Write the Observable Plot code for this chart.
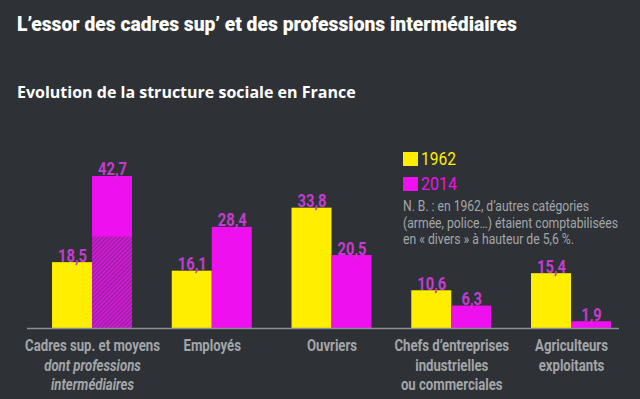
<!DOCTYPE html>
<html><head><meta charset="utf-8">
<script src="https://cdn.jsdelivr.net/npm/d3@7"></script>
<script src="https://cdn.jsdelivr.net/npm/@observablehq/plot@0.6"></script>
<style>
html,body{margin:0;padding:0;background:#2e3236;}
#wrap{position:relative;width:640px;height:399px;overflow:hidden;background:#2e3236;}
.cond{font-family:Roboto,sans-serif;white-space:nowrap;transform-origin:0 0;position:absolute;line-height:1;}
#title{left:17px;top:14px;color:#fff;font-weight:900;font-size:21px;}
#subtitle{position:absolute;left:17px;top:84px;color:#fff;font-family:"Open Sans",sans-serif;font-weight:bold;font-size:16px;line-height:1;white-space:nowrap;}
#chart{position:absolute;left:0;top:110px;}
.sw{position:absolute;width:15px;height:14px;}
.legt{font-size:18px;}
.note{color:#a3a6a9;font-size:14px;}
</style></head>
<body><div id="wrap">
<div id="title" class="cond">L’essor des cadres sup’ et des professions intermédiaires</div>
<div id="subtitle">Evolution de la structure sociale en France</div>
<div id="chart"></div>
<div class="sw" style="left:403px;top:152px;background:#ffee00"></div>
<div class="cond legt" id="leg1" style="left:421px;top:150px;color:#ffee00">1962</div>
<div class="sw" style="left:403px;top:177px;background:#ee10ee"></div>
<div class="cond legt" id="leg2" style="left:421px;top:175px;color:#ee10ee">2014</div>
<div class="cond note" id="n1" style="left:403px;top:199px">N. B. : en 1962, d’autres catégories</div>
<div class="cond note" id="n2" style="left:403px;top:215.5px">(armée, police…) étaient comptabilisées</div>
<div class="cond note" id="n3" style="left:403px;top:232px">en « divers » à hauteur de 5,6 %.</div>
</div>
<script>
const categories = ["Cadres sup. et moyens", "Employés", "Ouvriers", "Chefs d’entreprises", "Agriculteurs"];
const mainLabels = ["Cadres sup. et moyens", "Employés", "Ouvriers", "Chefs d’entreprises\nindustrielles\nou commerciales", "Agriculteurs\nexploitants"];
const italicLabels = ["dont professions\nintermédiaires", "", "", "", ""];
const values1962 = [18.5, 16.1, 33.8, 10.6, 15.4];
const values2014 = [42.7, 28.4, 20.5, 6.3, 1.9];
const hatched2014 = [25.7, 0, 0, 0, 0];

const yellow = "#ffee00", magenta = "#ee10ee", labelColor = "#c43ccd", catColor = "#a3a6a9";
const fmt = d => String(d).replace(".", ",");

const rows = categories.map((c, i) => ({cat: c, v62: values1962[i], v14: values2014[i], h: hatched2014[i], main: mainLabels[i], ital: italicLabels[i]}));

const ctx = document.createElement("canvas").getContext("2d");
const widthOf = (t, f) => { ctx.font = f; return ctx.measureText(t).width; };

const defs = () => {
  const d = d3.create("svg:defs");
  const p = d.append("pattern").attr("id", "hatch").attr("patternUnits", "userSpaceOnUse")
    .attr("width", 3).attr("height", 3).attr("patternTransform", "rotate(-45)");
  p.append("rect").attr("width", 3).attr("height", 3).attr("fill", magenta);
  p.append("rect").attr("width", 3).attr("height", 1.4).attr("fill", "#7d2b86");
  return d.node();
};

const sCat = 135 / widthOf("Cadres sup. et moyens", "bold 17px Roboto");
const sVal = 29 / widthOf("42,7", "bold 18px Roboto");

const plot = Plot.plot({
  width: 640, height: 289,
  marginLeft: 27, marginRight: 21, marginTop: 40, marginBottom: 71,
  style: {background: "transparent", fontFamily: "Roboto, sans-serif", overflow: "visible"},
  x: {domain: categories, paddingInner: 0.332, paddingOuter: 0.1378, align: 0.758, round: false, axis: null},
  y: {domain: [0, 50], axis: null},
  marks: [
    defs,
    Plot.barY(rows, {x: "cat", y: "v62", fill: yellow, insetRight: 40}),
    Plot.barY(rows, {x: "cat", y: "v14", fill: magenta, insetLeft: 40}),
    Plot.barY(rows.filter(d => d.h > 0), {x: "cat", y: "h", fill: "url(#hatch)", insetLeft: 40}),
    Plot.ruleY([0], {stroke: "#8c8f92", strokeWidth: 1.5}),
    Plot.text(rows, {x: "cat", y: "v62", text: d => fmt(d.v62), dx: -20, dy: -1, lineAnchor: "bottom", fill: labelColor, fontSize: 18, fontWeight: "bold", className: "vlab"}),
    Plot.text(rows, {x: "cat", y: "v14", text: d => fmt(d.v14), dx: 20, dy: -1, lineAnchor: "bottom", fill: labelColor, fontSize: 18, fontWeight: "bold", className: "vlab"}),
    Plot.text(rows, {x: "cat", y: 0, text: "main", dy: 9, lineAnchor: "top", lineHeight: 1.147, fill: catColor, fontSize: 17, fontWeight: "bold", className: "clab"}),
    Plot.text(rows, {x: "cat", y: 0, text: "ital", dy: 28.5, lineAnchor: "top", lineHeight: 1.147, fill: catColor, fontSize: 17, fontWeight: "bold", fontStyle: "italic", className: "clab"})
  ]
});
document.getElementById("chart").appendChild(plot);

const squeeze = (sel, s) => d3.select(plot).selectAll(sel).each(function() {
  const t = this.getAttribute("transform") || "";
  this.setAttribute("transform", t + ` scale(${s},1)`);
});
squeeze(".vlab text", sVal);
squeeze(".clab text", sCat);

const fitHTML = (id, target) => {
  const el = document.getElementById(id);
  const w = el.getBoundingClientRect().width;
  el.style.transform = `scaleX(${target / w})`;
};
fitHTML("title", 500);
fitHTML("leg1", 35);
fitHTML("leg2", 36);
fitHTML("n1", 186);
fitHTML("n2", 215);
fitHTML("n3", 171);
</script>
</body></html>
